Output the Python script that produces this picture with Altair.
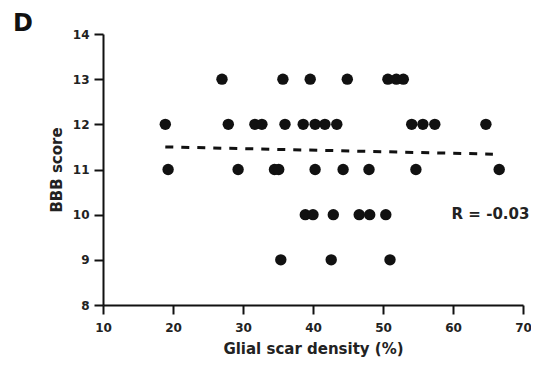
import altair as alt
import pandas as pd

# BBB score levels and glial scar density (%) of each point at that level
bbb_levels = [13, 12, 11, 10, 9]
x13 = [27.0, 35.7, 39.6, 44.9, 50.7, 51.9, 52.9]
x12 = [18.9, 27.9, 31.7, 32.7, 36.0, 38.6, 40.3, 41.7, 43.4, 54.1, 55.7, 57.4, 64.7]
x11 = [19.3, 29.3, 34.5, 35.1, 40.3, 44.3, 48.0, 54.7, 66.6]
x10 = [38.9, 40.0, 42.9, 46.6, 48.1, 50.4]
x9 = [35.4, 42.6, 51.0]

# dashed fit line end points
fit_x = [18.9, 65.7]
fit_y = [11.50, 11.34]

# annotation
r_label = ["R = -0.03"]
r_x = [59.8]
r_y = [9.90]

x_ticks = [10, 20, 30, 40, 50, 60, 70]
y_ticks = [8, 9, 10, 11, 12, 13, 14]

rows = []
for lvl, xs in zip(bbb_levels, [x13, x12, x11, x10, x9]):
    for v in xs:
        rows.append({"density": v, "bbb": lvl})
df = pd.DataFrame(rows)
fit = pd.DataFrame({"density": fit_x, "bbb": fit_y})
ann = pd.DataFrame({"density": r_x, "bbb": r_y, "label": r_label})

xscale = alt.Scale(domain=[10, 70], nice=False, zero=False)
yscale = alt.Scale(domain=[8, 14], nice=False, zero=False)

x_axis = alt.Axis(values=x_ticks, title="Glial scar density (%)", labelPadding=8, titlePadding=8)
y_axis = alt.Axis(values=y_ticks, title="BBB score", labelPadding=5, titlePadding=8)

points = alt.Chart(df).mark_circle(size=130, color="#111111", opacity=1).encode(
    x=alt.X("density:Q", scale=xscale, axis=x_axis),
    y=alt.Y("bbb:Q", scale=yscale, axis=y_axis),
)

line = alt.Chart(fit).mark_line(color="#111111", strokeWidth=3, strokeDash=[8, 8]).encode(
    x=alt.X("density:Q", scale=xscale),
    y=alt.Y("bbb:Q", scale=yscale),
)

rtext = alt.Chart(ann).mark_text(
    align="left", baseline="alphabetic", font="DejaVu Sans", fontWeight="bold",
    fontSize=15, color="#222222"
).encode(
    x=alt.X("density:Q", scale=xscale),
    y=alt.Y("bbb:Q", scale=yscale),
    text="label:N",
)

dtext = alt.Chart(alt.Data(values=[{"t": "D"}])).mark_text(
    align="left", baseline="alphabetic", font="DejaVu Sans", fontWeight="bold",
    fontSize=24, color="#111111"
).encode(
    x=alt.value(-90),
    y=alt.value(-3),
    text="t:N",
)

chart = alt.layer(points, line, rtext, dtext).properties(
    width=420,
    height=271,
    autosize="none",
    padding={"left": 95, "top": 26, "right": 8, "bottom": 56},
).configure_view(stroke=None).configure_axis(
    grid=False,
    labelFont="DejaVu Sans",
    labelFontWeight="bold",
    labelFontSize=12,
    labelColor="#222222",
    titleFont="DejaVu Sans",
    titleFontWeight="bold",
    titleFontSize=15,
    titleColor="#222222",
    domainColor="#111111",
    domainWidth=2,
    tickColor="#111111",
    tickWidth=2,
    tickSize=9,
    labelFlush=False,
    labelOverlap=False,
)

chart.save("out.html", embed_options={"renderer": "svg", "actions": False})
